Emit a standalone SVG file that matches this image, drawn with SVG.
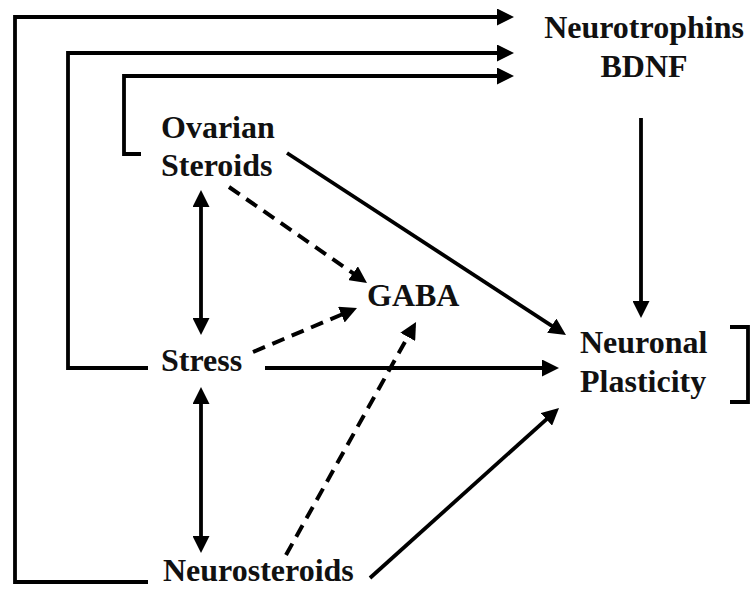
<svg xmlns="http://www.w3.org/2000/svg" width="752" height="592" viewBox="0 0 752 592">
<style>
.t{font-family:"Liberation Serif","Times New Roman",serif;font-weight:bold;font-size:32px;fill:#111}
.c{fill:none;stroke:#000;stroke-width:3.8}
.d{stroke-dasharray:13 8;stroke-width:4}
</style>
<defs>
<marker id="ah" viewBox="0 0 17 17" refX="12" refY="8.5" markerWidth="17" markerHeight="17" markerUnits="userSpaceOnUse" orient="auto-start-reverse">
<path d="M0,0 L17,8.5 L0,17 z" fill="#000"/>
</marker>
</defs>
<rect width="752" height="592" fill="#fff"/>
<g id="connectors">
<path class="c" d="M148,582 H15 V17 H509" marker-end="url(#ah)"/>
<path class="c" d="M148,368 H68 V53 H509" marker-end="url(#ah)"/>
<path class="c" d="M141,154 H124 V76 H509" marker-end="url(#ah)"/>
<path class="c" d="M641,118 V313" marker-end="url(#ah)"/>
<path class="c" d="M287,153 L561.8,332.3" marker-end="url(#ah)"/>
<path class="c" d="M265,368 H554" marker-end="url(#ah)"/>
<path class="c" d="M370,578 L555.3,411.3" marker-end="url(#ah)"/>
<path class="c" d="M201,195 V330" marker-start="url(#ah)" marker-end="url(#ah)"/>
<path class="c" d="M201,392 V548" marker-start="url(#ah)" marker-end="url(#ah)"/>
<path class="c d" d="M229,187 L362.9,280.1" marker-end="url(#ah)"/>
<path class="c d" d="M253,352 L352.4,310" marker-end="url(#ah)"/>
<path class="c d" d="M286,555 L413.6,326.4" marker-end="url(#ah)"/>
<path class="c" d="M730,327 H748 V402 H730"/>
</g>
<g id="neurotrophins">
<text class="t" x="644" y="38" text-anchor="middle">Neurotrophins</text>
<text class="t" x="644" y="77" text-anchor="middle">BDNF</text>
</g>
<g id="ovarian-steroids">
<text class="t" x="161" y="138">Ovarian</text>
<text class="t" x="161" y="176">Steroids</text>
</g>
<g id="gaba">
<text class="t" x="367" y="306">GABA</text>
</g>
<g id="neuronal-plasticity">
<text class="t" x="580" y="353">Neuronal</text>
<text class="t" x="580" y="392">Plasticity</text>
</g>
<g id="stress">
<text class="t" x="161" y="371">Stress</text>
</g>
<g id="neurosteroids">
<text class="t" x="163" y="581">Neurosteroids</text>
</g>
</svg>
